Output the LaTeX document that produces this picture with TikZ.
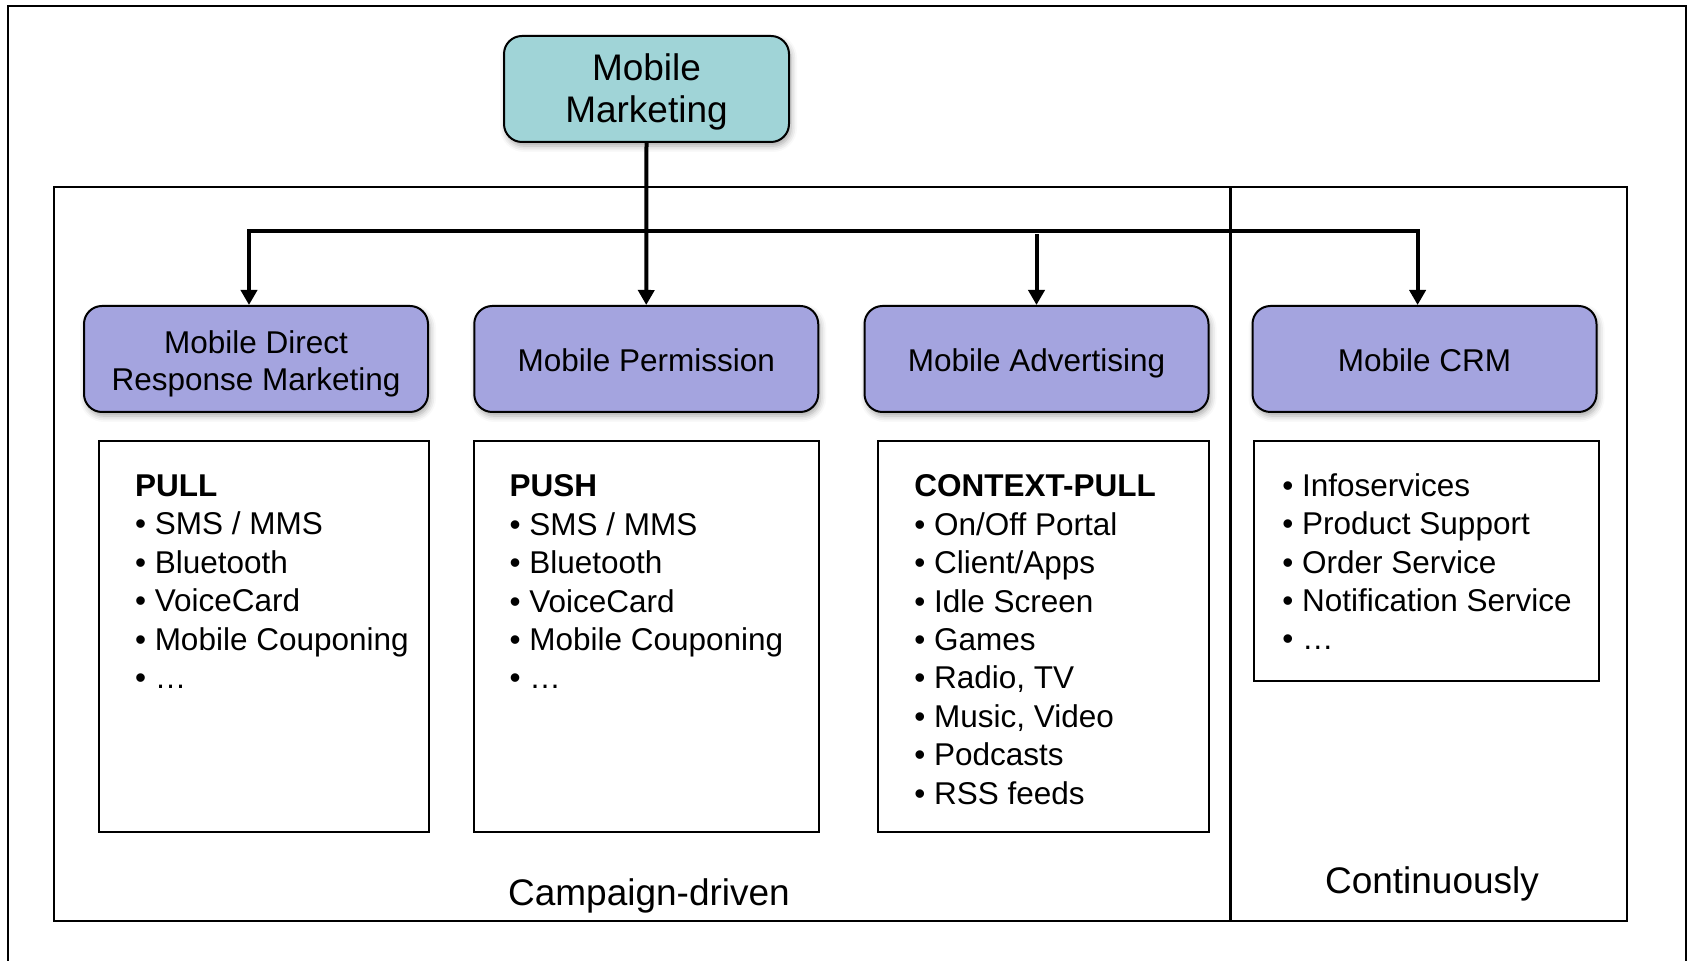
\documentclass[tikz,border=0pt]{standalone}
\usepackage{fontspec}
\setmainfont{Liberation Sans}
\usetikzlibrary{arrows.meta,shadows.blur,calc}
\definecolor{mmteal}{HTML}{A0D4D7}
\definecolor{mmpurple}{HTML}{A4A4DF}
\begin{document}
\begin{tikzpicture}[x=0.5pt,y=-0.5pt,
  shade/.style={blur shadow={shadow xshift=1pt,shadow yshift=-2pt,shadow blur radius=3pt,shadow opacity=35}},
  topbox/.style={draw,line width=1pt,rounded corners=9pt,fill=mmteal,minimum width=142.5pt,minimum height=53pt,
    align=center,inner sep=0pt,font=\fontsize{18.5pt}{21pt}\selectfont,text height=34pt,text depth=0pt,shade},
  catbox/.style={draw,line width=1pt,rounded corners=9pt,fill=mmpurple,minimum width=172pt,minimum height=53pt,
    align=center,inner sep=0pt,font=\fontsize{15.75pt}{18.5pt}\selectfont,text height=12.9pt,text depth=0pt,shade},
  twoline/.style={text height=31.3pt},
  listbox/.style={draw,line width=1pt,inner sep=0pt},
  listtext/.style={anchor=north west,align=left,inner sep=0pt,font=\fontsize{15.75pt}{19.2pt}\selectfont},
  frame/.style={line width=1.2pt},
  conn/.style={line width=2pt,-{Triangle[length=7.5pt,width=8pt]}},
  bigtext/.style={inner sep=0pt,font=\fontsize{18.5pt}{21pt}\selectfont,text height=13.25pt,text depth=0pt}]
\useasboundingbox (0,0) rectangle (1688,961);
% outer frame
\draw[line width=1pt] (8,975) -- (8,6) -- (1686,6) -- (1686,975);
% inner frames
\draw[frame] (54,187) rectangle (1627,921);
\draw[frame] (1230.5,187) -- (1230.5,921);
% nodes
\node[topbox] (top) at (646.5,89) {Mobile\\Marketing};
\node[catbox,twoline] (n1) at (256,359) {Mobile Direct\\Response Marketing};
\node[catbox] (n2) at (646.25,359) {Mobile Permission};
\node[catbox] (n3) at (1036.5,359) {Mobile Advertising};
\node[catbox] (n4) at (1424.5,359) {Mobile CRM};
% list boxes
\node[listbox,minimum width=165.2pt,minimum height=195.5pt] (b1) at (263.8,636.5) {};
\node[listbox,minimum width=172.25pt,minimum height=195.5pt] (b2) at (646.25,636.5) {};
\node[listbox,minimum width=165.5pt,minimum height=195.5pt] (b3) at (1043.5,636.5) {};
\node[listbox,minimum width=172.5pt,minimum height=120pt] (b4) at (1426.5,561) {};
% list texts
\node[listtext] (t1) at (134.6,474.5) {\textbf{PULL}\\• SMS / MMS\\• Bluetooth\\• VoiceCard\\• Mobile Couponing\\• …};
\node[listtext] (t2) at (509.2,474.5) {\textbf{PUSH}\\• SMS / MMS\\• Bluetooth\\• VoiceCard\\• Mobile Couponing\\• …};
\node[listtext] (t3) at (914,474.5) {\textbf{CONTEXT-PULL}\\• On/Off Portal\\• Client/Apps\\• Idle Screen\\• Games\\• Radio, TV\\• Music, Video\\• Podcasts\\• RSS feeds};
\node[listtext] (t4) at (1282,473) {• Infoservices\\• Product Support\\• Order Service\\• Notification Service\\• …};
% section labels
\node[bigtext] (lcamp) at (649,892) {Campaign-driven};
\node[bigtext] (lcont) at (1432,880.6) {Continuously};
% connectors
\coordinate (jl) at (249,231);
\coordinate (jr) at (1417.6,231);
\draw[conn] (top.south) -- (n2.north);
\draw[conn] (jr) -- (jl) -- (jl |- n1.north);
\draw[conn] (jl) -- (jr) -- (jr |- n4.north);
\draw[conn] ($(n3.north |- jl)+(0,3.5)$) -- (n3.north);
\end{tikzpicture}
\end{document}
